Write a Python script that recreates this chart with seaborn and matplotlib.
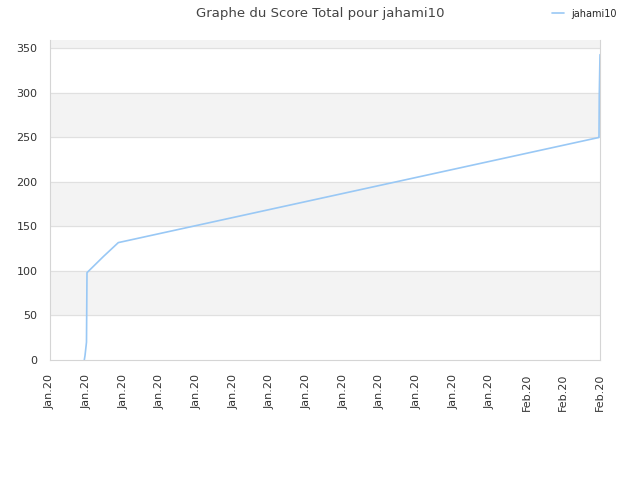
import pandas as pd
import seaborn as sns
import matplotlib.pyplot as plt
import matplotlib.dates as mdates

# score values
times = ["2020-01-07 20:53", "2020-01-07 21:50", "2020-01-07 23:08", "2020-01-07 23:46",
         "2020-01-08 00:26", "2020-01-08 21:48", "2020-01-09 17:25", "2020-02-04 22:19",
         "2020-02-04 22:42", "2020-02-04 23:02", "2020-02-05 00:00"]
scores = [0, 5, 15, 20, 98, 116, 131.7, 249.6, 250, 295.6, 342.5]
player = "jahami10"

df = pd.DataFrame({"date": pd.to_datetime(times), "score": scores})

sns.set_style("white")
plt.rcParams['font.family'] = ['DejaVu Sans']

fig = plt.figure(figsize=(6.4, 4.8), dpi=100)
ax = fig.add_axes([50 / 640, 120 / 480, 550 / 640, 320 / 480])

# alternating horizontal bands
for lo in range(50, 400, 100):
    ax.axhspan(lo, lo + 50, color="#f3f3f3", zorder=0)
for yv in range(50, 400, 50):
    ax.axhline(yv, color="#e0e0e0", lw=0.8, zorder=0.5)

sns.lineplot(data=df, x="date", y="score", ax=ax, color="#99c8f5", lw=1.2, label=player)

ticks = pd.date_range("2020-01-06", periods=16, freq="2D")
ax.set_xticks(ticks)
ax.xaxis.set_major_formatter(mdates.DateFormatter("%b.%y"))
ax.set_xlim(ticks[0], ticks[-1])
ax.set_ylim(0, 359)
ax.set_yticks(range(0, 351, 50))
ax.tick_params(axis="x", rotation=90, labelsize=8, colors="#333333", length=0, pad=10)
ax.tick_params(axis="y", labelsize=8, colors="#333333", length=0, pad=9)
ax.set_xlabel("")
ax.set_ylabel("")
for s in ax.spines.values():
    s.set_color("#d5d5d5")
    s.set_linewidth(0.8)
ax.spines["top"].set_visible(False)

ax.get_legend().remove()
fig.legend(loc="upper right", bbox_to_anchor=(0.978, 1.0), frameon=False, fontsize=7,
           handlelength=1.2, handletextpad=0.8)

fig.suptitle("Graphe du Score Total pour jahami10", fontsize=9.5, color="#444444", y=0.985)

fig.savefig("out.png", dpi=100)
